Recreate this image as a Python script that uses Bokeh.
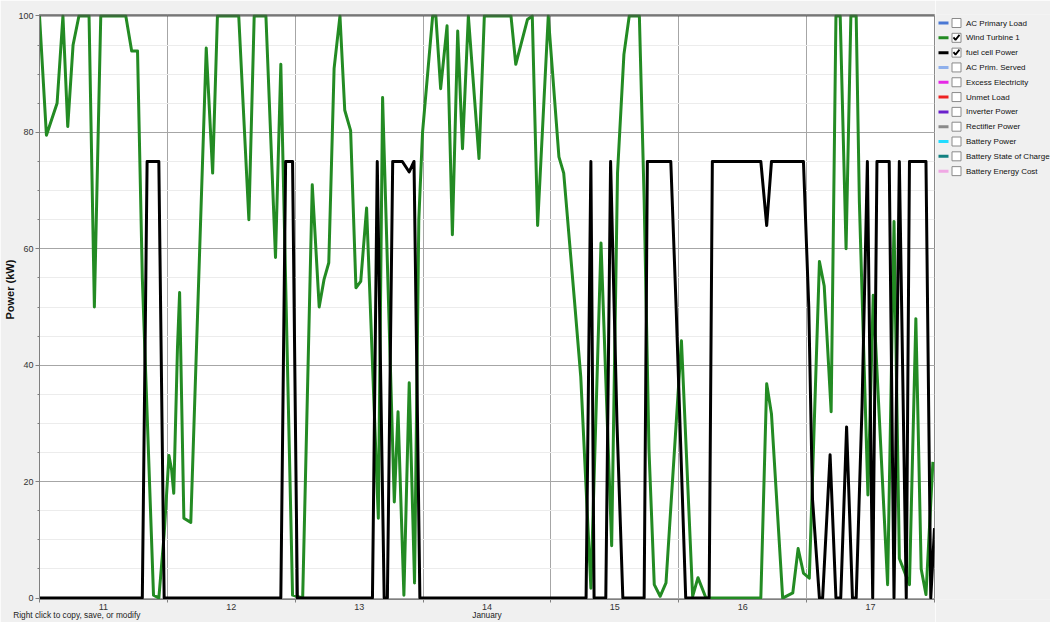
from bokeh.plotting import figure
from bokeh.layouts import row
from bokeh.models import Range1d, FixedTicker, Span, Title, LinearAxis
from bokeh.embed import file_html
from bokeh.resources import INLINE
from bokeh.core.properties import value

# ---- data (hours since Jan 11 00:00, kW) ----
wind_hours = [0.0, 1.3, 3.3, 4.4, 5.3, 6.3, 7.4, 9.3, 10.3, 11.5, 16.2, 17.3, 18.4, 19.3,
              21.4, 22.4, 23.4, 24.3, 24.8, 25.2, 25.9, 26.3, 27.1, 28.4, 31.3, 32.5, 33.4,
              37.4, 39.3, 40.3, 42.5, 44.3, 45.3, 47.5, 49.4, 51.2, 52.5, 53.4, 54.3, 55.3,
              56.4, 57.3, 58.4, 59.4, 60.3, 61.4, 63.6, 64.4, 66.6, 67.3, 68.4, 69.4, 70.4,
              71.2, 71.9, 73.8, 74.4, 75.3, 76.5, 77.5, 78.5, 79.4, 80.5, 82.5, 83.5, 88.5,
              89.4, 91.6, 92.5, 93.5, 95.5, 97.5, 98.4, 100.4, 101.6, 103.5, 105.4, 107.4,
              108.5, 109.7, 110.7, 112.6, 113.5, 114.4, 115.4, 116.5, 117.6, 120.5, 122.6,
              123.6, 125.1, 135.4, 136.5, 137.4, 139.5, 141.4, 142.4, 143.4, 144.5, 146.4,
              147.3, 148.6, 149.5, 150.3, 151.4, 152.3, 153.3, 153.9, 155.5, 156.5, 159.2,
              160.4, 161.4, 163.3, 164.5, 165.5, 166.4, 167.7]
wind_kw = [100, 79.5, 85, 100, 81, 95, 100, 100, 50, 100, 100, 94, 94, 55,
           0.5, 0, 11, 24.5, 22, 18, 43, 52.5, 13.7, 13, 94.5, 73, 100,
           100, 65, 100, 100, 58.5, 91.7, 0.5, 0, 71, 50, 54.7, 57.6, 91,
           100, 83.8, 80.3, 53.3, 54.4, 67, 13.7, 86, 16.5, 32, 0.5, 37, 2.6,
           65, 80, 100, 100, 87.5, 98.3, 62.4, 97.4, 77.2, 100, 75.5, 100, 100,
           91.7, 99.4, 100, 64, 100, 75.8, 73, 51.3, 38, 1.7, 61, 9,
           73, 93.4, 100, 100, 68.4, 25.6, 2.3, 0.3, 2.6, 44.2, 0.3,
           3.5, 0, 0, 36.8, 31.6, 0, 0.9, 8.5, 4.3, 3.4, 57.8,
           53.6, 32, 100, 100, 60, 100, 100, 68, 17.7, 52, 2.3,
           64.7, 6.8, 2.3, 48, 5, 0.6, 23.4]

fuel_hours = [0.0, 19.3, 20.2, 22.4, 23.4, 45.3, 46.2, 47.5, 48.4, 62.5, 63.4, 64.7, 65.3,
              66.3, 68.1, 69.4, 70.3, 71.4, 102.6, 103.5, 104.1, 106.3, 107.2, 108.4, 109.5,
              113.5, 114.1, 118.5, 119.5, 121.3, 125.7, 126.3, 135.4, 136.5, 137.4, 143.4,
              144.4, 145.1, 146.4, 147.0, 148.4, 149.5, 150.4, 151.5, 152.6, 153.3, 154.4,
              155.4, 156.4, 157.2, 159.5, 160.4, 161.4, 162.7, 163.3, 166.4, 167.3, 168.0]
fuel_kw = [0, 0, 75, 75, 0, 0, 75, 75, 0, 0, 75, 0, 0,
           75, 75, 73.2, 75, 0, 0, 75, 0, 0, 75, 30, 0,
           0, 75, 75, 50, 0, 0, 75, 75, 64, 75, 75,
           50, 17, 0, 0, 24.6, 0, 0, 29.4, 0, 0, 33,
           75, 0, 75, 75, 0, 75, 0, 75, 75, 0, 12]

day_labels = ["11", "12", "13", "14", "15", "16", "17"]
y_ticks = [0, 20, 40, 60, 80, 100]
footer_texts = ["Right click to copy, save, or modify", "January"]

legend_names = ["AC Primary Load", "Wind Turbine 1", "fuel cell Power", "AC Prim. Served",
                "Excess Electricity", "Unmet Load", "Inverter Power", "Rectifier Power",
                "Battery Power", "Battery State of Charge", "Battery Energy Cost"]
legend_colors = ["#4a78d4", "#238b23", "#000000", "#8fb0ec", "#e628e6", "#ee2222",
                 "#6a20cc", "#8a8a8a", "#22dcff", "#128080", "#f0a8e4"]
legend_checked = [False, True, True, False, False, False, False, False, False, False, False]

FONT = "Liberation Sans"
PANEL = "#f0f0f0"

# ---- main chart ----
p = figure(width=935, height=622,
           x_range=Range1d(0, 168), y_range=Range1d(-0.25, 100.25),
           output_backend="svg", toolbar_location=None,
           min_border_left=39, min_border_right=1, min_border_top=14, min_border_bottom=4,
           background_fill_color="white", border_fill_color=PANEL,
           outline_line_color="#8a8a8a")

# y axis
p.yaxis.ticker = FixedTicker(ticks=y_ticks, minor_ticks=list(range(0, 101, 5)))
p.yaxis.major_tick_out = 4
p.yaxis.major_tick_in = 0
p.yaxis.minor_tick_out = 2
p.yaxis.minor_tick_in = 0
p.yaxis.major_label_standoff = 2
p.yaxis.axis_line_color = "#808080"
p.yaxis.major_tick_line_color = "#808080"
p.yaxis.minor_tick_line_color = "#808080"
p.yaxis.major_label_text_font = FONT
p.yaxis.major_label_text_font_size = "9px"
p.yaxis.major_label_text_color = "#333333"

# x axis: labels at day centres, ticks at day boundaries
centres = [12 + 24 * i for i in range(len(day_labels))]
bounds = [24 * i for i in range(len(day_labels) + 1)]
p.xaxis.ticker = FixedTicker(ticks=centres, minor_ticks=bounds)
p.xaxis.major_label_overrides = {c: lab for c, lab in zip(centres, day_labels)}
p.xaxis.major_tick_out = 0
p.xaxis.major_tick_in = 0
p.xaxis.minor_tick_out = 3
p.xaxis.minor_tick_in = 0
p.xaxis.major_label_standoff = 1
p.xaxis.axis_line_color = "#808080"
p.xaxis.minor_tick_line_color = "#808080"
p.xaxis.major_label_text_font = FONT
p.xaxis.major_label_text_font_size = "9px"
p.xaxis.major_label_text_color = "#333333"

# footer line (copy hint on the left, month name centred) as a bare second axis
footer_at = [7, 84]
footer = LinearAxis(ticker=FixedTicker(ticks=footer_at, minor_ticks=[]),
                    major_label_overrides={h: t for h, t in zip(footer_at, footer_texts)},
                    major_tick_out=0, major_tick_in=0, minor_tick_out=0, minor_tick_in=0,
                    axis_line_color=None, major_tick_line_color=None,
                    minor_tick_line_color=None, major_label_standoff=-3,
                    major_label_text_font=FONT, major_label_text_font_size="8.3px",
                    major_label_text_color="#222222")
p.add_layout(footer, "below")

# grids
p.ygrid.grid_line_color = "#a6a6a6"
p.ygrid.minor_grid_line_color = "#ececec"
p.xgrid.ticker = FixedTicker(ticks=bounds[1:-1])
p.xgrid.grid_line_color = "#a6a6a6"

p.add_layout(Span(location=100, dimension="width", line_color="#505050", line_width=1))

# y axis title, rotated, on the left
p.add_layout(Title(text="Power (kW)", align="left", offset=280, standoff=0,
                   text_font=FONT, text_font_style="bold", text_font_size="11px",
                   text_color="#111111"), "left")

# series
p.line(wind_hours, wind_kw, line_color="#238b23", line_width=3, line_join="round")
p.line(fuel_hours, fuel_kw, line_color="black", line_width=3, line_join="round")

# ---- legend panel (its frame is aligned with the chart frame: page rows 14..598.5) ----
lg = figure(width=115, height=622, x_range=Range1d(0, 115), y_range=Range1d(598.5, 14),
            output_backend="svg", toolbar_location=None, x_axis_type=None, y_axis_type=None,
            min_border=0, outline_line_color=None,
            background_fill_color=PANEL, border_fill_color=PANEL)
lg.grid.visible = False

ys = [22.5 + 14.8 * i for i in range(len(legend_names))]
lg.segment(x0=3, x1=13, y0=ys, y1=ys, line_color=legend_colors, line_width=3)
lg.rect(x=21, y=ys, width=9, height=9, fill_color="white", line_color="#8a8a8a", line_width=1)
chk_x, chk_y = [], []
for yy, on in zip(ys, legend_checked):
    if on:
        chk_x.append([18.0, 20.0, 24.0])
        chk_y.append([yy - 0.5, yy + 2.0, yy - 3.0])
lg.multi_line(chk_x, chk_y, line_color="black", line_width=1.8)
lg.text(x=30.5, y=ys, text=legend_names, text_baseline="middle", text_align="left",
        text_font=value(FONT), text_font_size="8px", text_color="#111111")

layout = row(p, lg)
open("out.html", "w").write(file_html(layout, INLINE))
